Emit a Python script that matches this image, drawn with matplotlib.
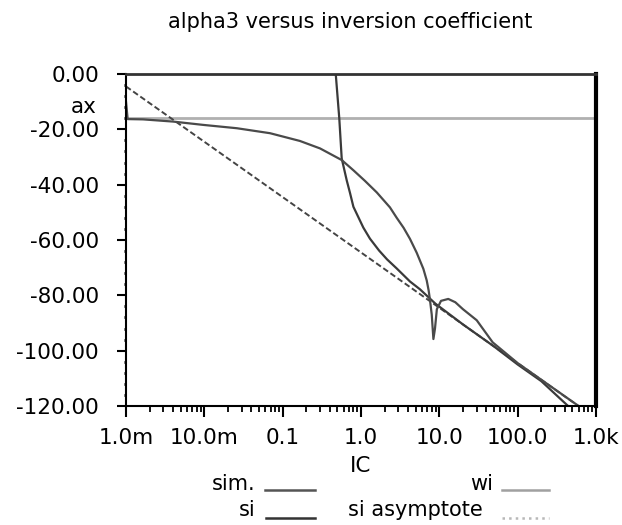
import numpy as np
from matplotlib import pyplot as plt
from matplotlib.lines import Line2D
from matplotlib.ticker import FixedLocator, NullFormatter

plt.rcParams['font.family'] = ['DejaVu Sans']

# simulated alpha3 (arc with a dip around IC~8.5)
sim_ic = [1.0e-3, 1.05e-3, 1.65e-3, 4.0e-3, 9.7e-3, 0.026, 0.069, 0.166, 0.30, 0.567,
          0.8, 1.12, 1.59, 2.34, 2.86, 3.5, 4.22, 5.14, 6.25, 6.9, 7.3, 7.6, 8.0, 8.4,
          8.8, 9.3, 10.5, 13.0, 16.0, 20.0, 30.0, 48.0, 100.0, 200.0, 400.0, 600.0]
sim_val = [-10.0, -16.3, -16.4, -17.2, -18.4, -19.6, -21.4, -24.2, -26.9, -31.1,
           -34.8, -38.6, -42.8, -48.2, -52.0, -55.6, -59.6, -64.6, -70.4, -74.6,
           -78.2, -81.7, -87.0, -95.8, -92.0, -85.0, -82.0, -81.3, -82.5, -85.0,
           -89.0, -97.0, -104.5, -110.5, -116.5, -120.0]

# strong inversion model
si_ic = [0.474, 0.476, 0.528, 0.567, 0.658, 0.724, 0.80, 1.07, 1.30, 1.7, 2.15, 2.86,
         4.22, 5.65, 8.9, 20.0, 50.0, 100.0, 200.0, 440.0, 600.0]
si_val = [2.0, 0.0, -16.0, -30.5, -38.5, -43.0, -48.0, -55.5, -59.5, -63.8, -67.0,
          -70.3, -75.0, -77.8, -83.0, -90.5, -98.5, -105.0, -111.0, -120.0, -123.0]

# weak inversion (constant) and si asymptote
wi_ic = [1.0e-3, 1.0e3]
wi_val = [-15.8, -15.8]
asym_ic = [1.0e-3, 1.0e-2, 0.1, 1.0, 10.0, 100.0, 1.0e3]
asym_val = [-4.5, -24.5, -44.5, -64.5, -84.5, -104.5, -124.5]

xticks = [1e-3, 1e-2, 1e-1, 1, 10, 100, 1000]
xlabels = ['1.0m', '10.0m', '0.1', '1.0', '10.0', '100.0', '1.0k']
yticks = [0, -20, -40, -60, -80, -100, -120]
ylabels = ['0.00', '-20.00', '-40.00', '-60.00', '-80.00', '-100.00', '-120.00']

W, H = 622, 525
fs = 15.5
fig = plt.figure(figsize=(W/100., H/100.), dpi=100)
ax = fig.add_axes([126./W, 1-406./H, (596.-126)/W, (406.-74)/H])

ax.plot(wi_ic, wi_val, color='#b0b0b0', lw=2.0)
ax.plot(asym_ic, asym_val, color='#444444', lw=1.4, ls=(0, (3, 1.5)))
ax.plot(si_ic, si_val, color='#3a3a3a', lw=1.6)
ax.plot(sim_ic, sim_val, color='#4a4a4a', lw=1.6)

ax.set_xscale('log')
ax.set_xlim(1e-3, 1e3)
ax.set_ylim(-120, 0)
ax.set_xticks(xticks)
ax.set_xticklabels(xlabels)
ax.xaxis.set_minor_locator(FixedLocator([m*d for d in xticks[:-1] for m in range(2, 10)]))
ax.xaxis.set_minor_formatter(NullFormatter())
ax.set_yticks(yticks)
ax.set_yticklabels(ylabels)
ax.yaxis.set_minor_locator(FixedLocator(list(range(-120, 1, 4))))

ax.tick_params(axis='x', which='major', direction='out', length=8, width=1.5, pad=8, labelsize=fs)
ax.tick_params(axis='x', which='minor', direction='out', length=4, width=1.3)
ax.tick_params(axis='y', which='major', direction='out', length=6.5, width=1.5, pad=13, labelsize=fs)
ax.tick_params(axis='y', which='minor', direction='out', length=1.5, width=2)

for s in ['left', 'bottom']:
    ax.spines[s].set_linewidth(1.5)
ax.spines['top'].set_linewidth(2)
ax.spines['top'].set_color('#333333')
ax.spines['right'].set_linewidth(3)

fig.text(350./W, 1-22./H, 'alpha3 versus inversion coefficient', ha='center', va='center', fontsize=15)
fig.text(97./W, 1-107./H, 'ax', ha='right', va='center', fontsize=fs)
fig.text(361./W, 1-466./H, 'IC', ha='center', va='center', fontsize=fs)

# legend drawn by hand, as in the original layout
leg = [('sim.', 255, 484, 265, 315, 490, '#555555', '-'),
       ('wi', 493, 484, 502, 549, 490, '#a0a0a0', '-'),
       ('si', 256, 510, 266, 315, 518, '#333333', '-'),
       ('si asymptote', 483, 510, 502, 549, 518, '#b8b8b8', ':')]
for txt, tx, ty, x0, x1, ly, c, ls in leg:
    fig.text(tx/W, 1-ty/H, txt, ha='right', va='center', fontsize=15)
    fig.add_artist(Line2D([x0/W, x1/W], [1-ly/H, 1-ly/H], color=c, lw=1.8, ls=ls))

plt.savefig('out.png', dpi=100)
